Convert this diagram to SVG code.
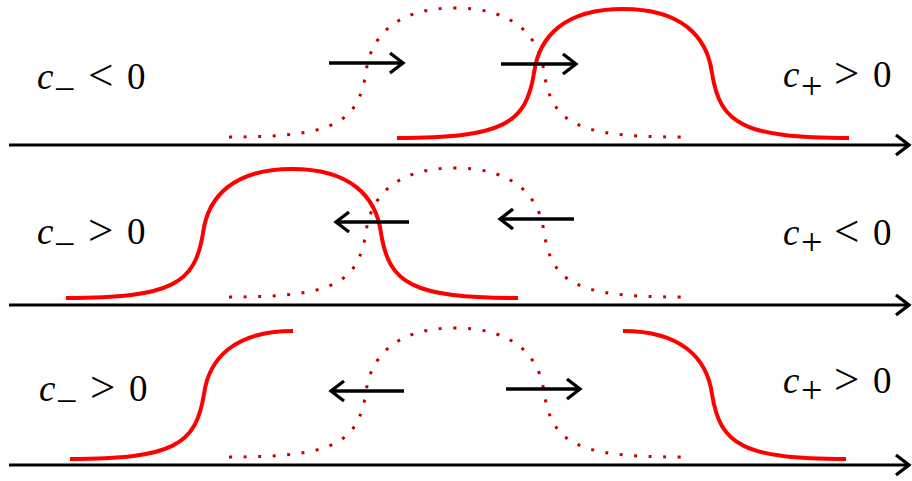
<svg xmlns="http://www.w3.org/2000/svg" xmlns:xlink="http://www.w3.org/1999/xlink" width="912" height="481" viewBox="0 0 912 481">
<style>
.axis{stroke:#000;stroke-width:3;fill:none}
.arr{stroke:#000;stroke-width:3.3;fill:none}
.solid{stroke:#ff0000;stroke-width:4;fill:none}
.dot{stroke:#c80000;stroke-width:3;fill:none;stroke-dasharray:3 11.5}
.lbl{font-family:"Liberation Serif","DejaVu Serif",serif;font-size:37px;fill:#000}
.it{font-style:italic}
.sub{font-size:38px}
.rel{font-size:45px}
</style>
<defs>
<marker id="ah" markerUnits="userSpaceOnUse" viewBox="-16 -13 19 26" refX="0" refY="0" markerWidth="19" markerHeight="26" orient="auto">
<path d="M-13,-10 L0,0 L-13,10" fill="none" stroke="#000" stroke-width="3.3"/>
</marker>
<path id="bump" d="M-226,0 C-120,0 -97,-14 -89,-65 C-84,-102 -58,-129 0,-129 C58,-129 84,-102 89,-65 C97,-14 120,0 226,0"/>
<path id="halfL" d="M-223,0 C-120,0 -97,-14 -89,-65 C-84,-101 -58,-128 0,-128"/>
<path id="halfR" d="M0,-128 C58,-128 84,-101 89,-65 C97,-14 120,0 223,0"/>
</defs>

<g id="panel1">
<use href="#bump" class="dot" x="455" y="137"/>
<use href="#bump" class="solid" x="623" y="138"/>
<text class="lbl" y="89"><tspan class="it" x="37">c</tspan><tspan class="sub" x="54" y="102">−</tspan><tspan class="rel" x="88" y="89.5">&lt;</tspan><tspan x="127" y="89">0</tspan></text>
<text class="lbl" y="87"><tspan class="it" x="783">c</tspan><tspan class="sub" x="801" y="99">+</tspan><tspan class="rel" x="834" y="87.5">&gt;</tspan><tspan x="873" y="87">0</tspan></text>
</g>

<g id="panel2">
<use href="#bump" class="dot" x="455" y="297"/>
<use href="#bump" class="solid" x="292" y="298"/>
<text class="lbl" y="244"><tspan class="it" x="37">c</tspan><tspan class="sub" x="54" y="257">−</tspan><tspan class="rel" x="88" y="244.5">&gt;</tspan><tspan x="127" y="244">0</tspan></text>
<text class="lbl" y="245"><tspan class="it" x="783">c</tspan><tspan class="sub" x="801" y="255">+</tspan><tspan class="rel" x="834" y="245.5">&lt;</tspan><tspan x="873" y="245">0</tspan></text>
</g>

<g id="panel3">
<use href="#bump" class="dot" x="455" y="457"/>
<use href="#halfL" class="solid" x="293" y="459"/>
<use href="#halfR" class="solid" x="623" y="459"/>
<text class="lbl" y="401"><tspan class="it" x="39">c</tspan><tspan class="sub" x="56" y="414">−</tspan><tspan class="rel" x="90" y="401.5">&gt;</tspan><tspan x="129" y="401">0</tspan></text>
<text class="lbl" y="393"><tspan class="it" x="783">c</tspan><tspan class="sub" x="801" y="403">+</tspan><tspan class="rel" x="834" y="393.5">&gt;</tspan><tspan x="873" y="393">0</tspan></text>
</g>

<g id="connectors">
<line class="axis" x1="9" y1="145" x2="909" y2="145" marker-end="url(#ah)"/>
<line class="axis" x1="9" y1="305" x2="909" y2="305" marker-end="url(#ah)"/>
<line class="axis" x1="9" y1="465" x2="909" y2="465" marker-end="url(#ah)"/>
<line class="arr" x1="329" y1="63" x2="403" y2="63" marker-end="url(#ah)"/>
<line class="arr" x1="501" y1="64" x2="576" y2="64" marker-end="url(#ah)"/>
<line class="arr" x1="409" y1="222" x2="336" y2="222" marker-end="url(#ah)"/>
<line class="arr" x1="574" y1="219" x2="500" y2="219" marker-end="url(#ah)"/>
<line class="arr" x1="404" y1="391" x2="331" y2="391" marker-end="url(#ah)"/>
<line class="arr" x1="506" y1="389" x2="580" y2="389" marker-end="url(#ah)"/>
</g>
</svg>
